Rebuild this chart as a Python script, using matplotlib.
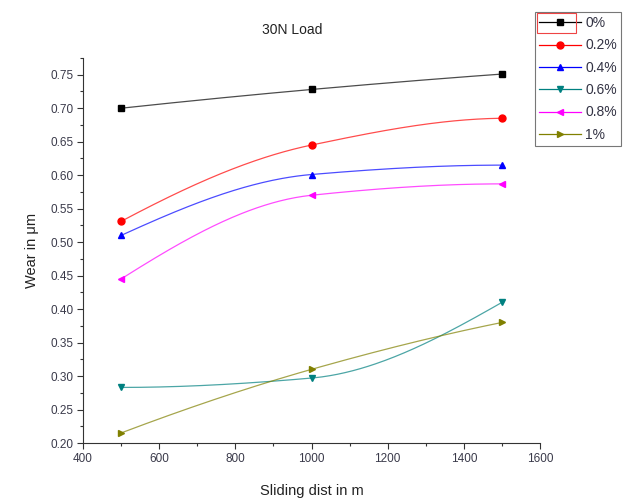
import numpy as np
import matplotlib
matplotlib.use("Agg")
import matplotlib.pyplot as plt
from matplotlib.patches import Rectangle
from matplotlib.ticker import MultipleLocator, FormatStrFormatter

plt.rcParams['font.family'] = ['Liberation Sans', 'DejaVu Sans']

dist = [500, 1000, 1500]
labels = ['0%', '0.2%', '0.4%', '0.6%', '0.8%', '1%']
wear_0 = [0.700, 0.728, 0.751]
wear_02 = [0.531, 0.645, 0.685]
wear_04 = [0.510, 0.601, 0.615]
wear_06 = [0.283, 0.297, 0.410]
wear_08 = [0.445, 0.570, 0.587]
wear_1 = [0.215, 0.310, 0.380]
series = [wear_0, wear_02, wear_04, wear_06, wear_08, wear_1]
colors = ['black', 'red', 'blue', '#008080', 'magenta', '#808000']
markers = ['s', 'o', '^', 'v', '<', '>']


def pchip(x, y, xs):
    x = np.asarray(x, float); y = np.asarray(y, float)
    h = np.diff(x); d = np.diff(y) / h
    n = len(x); m = np.zeros(n)
    for k in range(1, n - 1):
        if d[k - 1] * d[k] > 0:
            w1 = 2 * h[k] + h[k - 1]; w2 = h[k] + 2 * h[k - 1]
            m[k] = (w1 + w2) / (w1 / d[k - 1] + w2 / d[k])
    def end(h0, h1, d0, d1):
        v = ((2 * h0 + h1) * d0 - h0 * d1) / (h0 + h1)
        if np.sign(v) != np.sign(d0):
            v = 0
        elif np.sign(d0) != np.sign(d1) and abs(v) > abs(3 * d0):
            v = 3 * d0
        return v
    m[0] = end(h[0], h[1], d[0], d[1])
    m[-1] = end(h[-1], h[-2], d[-1], d[-2])
    out = np.empty_like(xs)
    for i, xv in enumerate(xs):
        k = min(np.searchsorted(x, xv, side='right') - 1, n - 2)
        k = max(k, 0)
        t = (xv - x[k]) / h[k]
        h00 = 2 * t**3 - 3 * t**2 + 1; h10 = t**3 - 2 * t**2 + t
        h01 = -2 * t**3 + 3 * t**2; h11 = t**3 - t**2
        out[i] = h00 * y[k] + h10 * h[k] * m[k] + h01 * y[k + 1] + h11 * h[k] * m[k + 1]
    return out


fig = plt.figure(figsize=(6.3, 4.99), dpi=100)
ax = fig.add_axes([83 / 630, 1 - 443 / 499, (540 - 83) / 630, (443 - 58) / 499])

xs = np.linspace(dist[0], dist[-1], 200)
handles = []
for s, c, mk, lb in zip(series, colors, markers, labels):
    ax.plot(xs, pchip(dist, s, xs), color=c, lw=0.9, alpha=0.7)
    ax.plot(dist, s, linestyle='none', marker=mk, color=c, ms=5)
    h, = ax.plot([], [], color=c, lw=0.9, marker=mk, ms=5, label=lb)
    handles.append(h)

ax.set_xlim(400, 1600)
ax.set_ylim(0.20, 0.775)
ax.xaxis.set_major_locator(MultipleLocator(200))
ax.xaxis.set_minor_locator(MultipleLocator(100))
ax.yaxis.set_major_locator(MultipleLocator(0.05))
ax.yaxis.set_minor_locator(MultipleLocator(0.025))
ax.yaxis.set_major_formatter(FormatStrFormatter('%.2f'))
for sp in ['top', 'right']:
    ax.spines[sp].set_visible(False)
for sp in ['left', 'bottom']:
    ax.spines[sp].set_color('#333333')
    ax.spines[sp].set_linewidth(0.8)
ax.tick_params(which='major', direction='out', length=4, width=0.8, colors='#333333',
               labelsize=8.5, labelcolor='#3a3a4a', pad=3)
ax.tick_params(which='minor', direction='out', length=2.5, width=0.8, colors='#333333')
ax.set_xlabel('Sliding dist in m', fontsize=10.5, color='#222222', labelpad=14)
ax.set_ylabel('Wear in μm', fontsize=10.5, color='#222222', labelpad=8)

fig.text(292 / 630, 1 - 30 / 499, '30N Load', ha='center', va='center', fontsize=10, color='#222222')

leg = fig.legend(handles=handles, loc='upper left', bbox_to_anchor=(535 / 630, 1 - 12 / 499),
                 fontsize=10, frameon=True, fancybox=False, edgecolor='#555555',
                 borderpad=0.3, labelspacing=0.6, handlelength=3.0, handletextpad=0.3,
                 borderaxespad=0, labelcolor='#333344')
leg.get_frame().set_linewidth(0.8)

rect = Rectangle((537 / 630, 1 - 33 / 499), (576 - 537) / 630, (33 - 13) / 499,
                 transform=fig.transFigure, fill=False, edgecolor='#ee4444', lw=0.8, zorder=10)
fig.add_artist(rect)

fig.savefig('out.png', dpi=100)
